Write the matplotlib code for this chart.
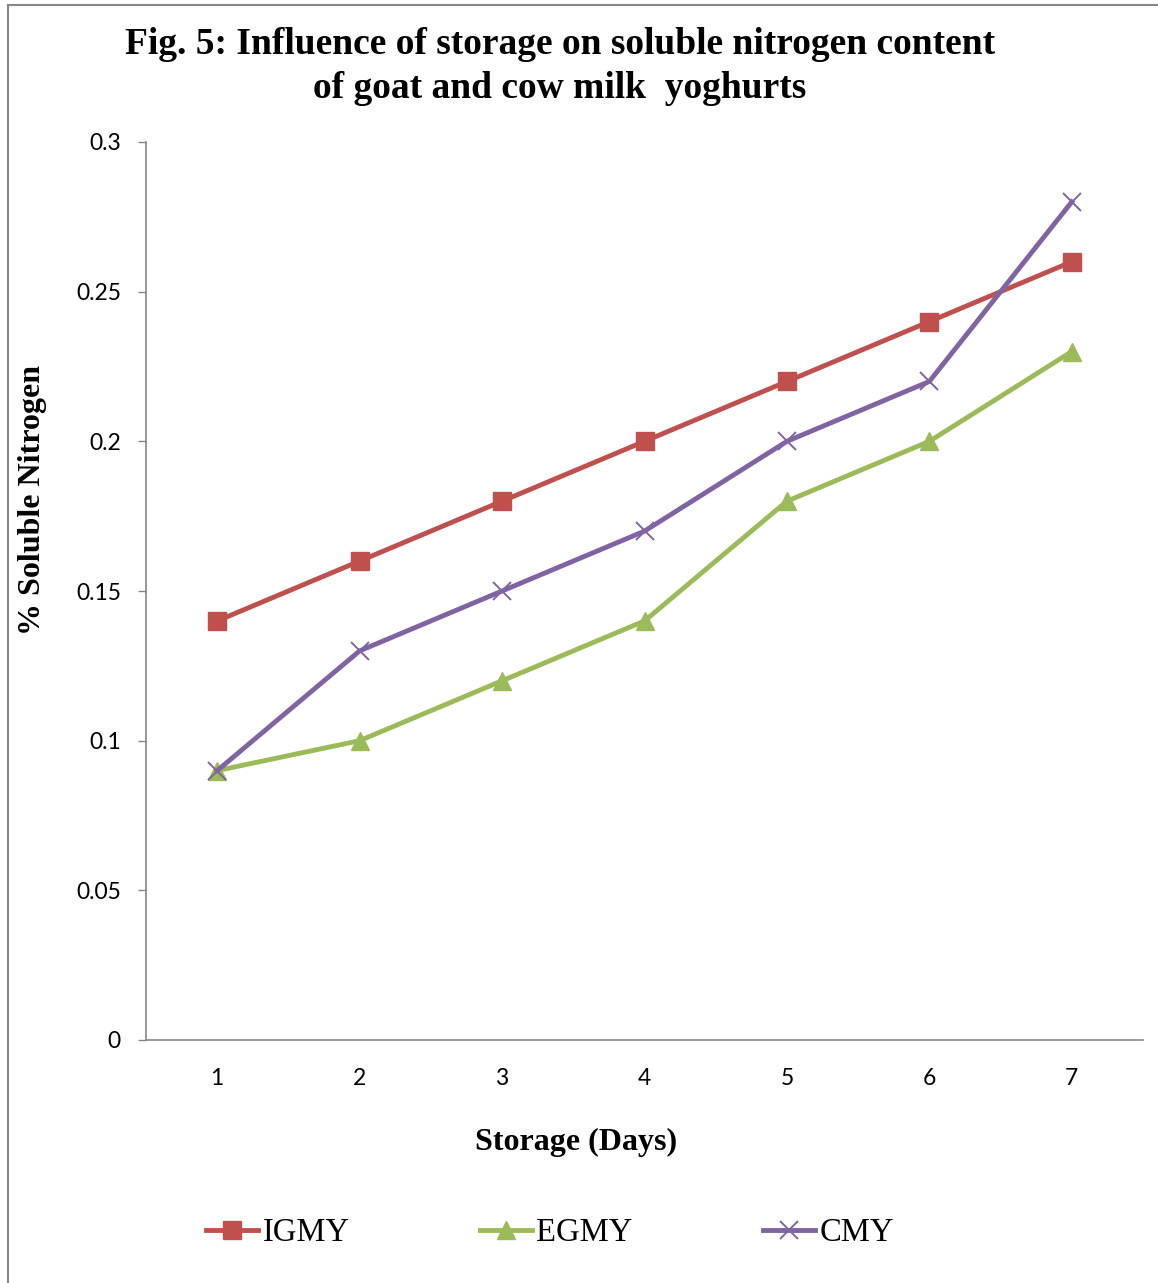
import matplotlib
matplotlib.use("Agg")
import matplotlib.pyplot as plt
from matplotlib.lines import Line2D

# Soluble nitrogen (%) over storage days
days = [1, 2, 3, 4, 5, 6, 7]
igmy = [0.14, 0.16, 0.18, 0.20, 0.22, 0.24, 0.26]
egmy = [0.09, 0.10, 0.12, 0.14, 0.18, 0.20, 0.23]
cmy = [0.09, 0.13, 0.15, 0.17, 0.20, 0.22, 0.28]
y_ticks = [0, 0.05, 0.1, 0.15, 0.2, 0.25, 0.3]
y_tick_labels = ["0", "0.05", "0.1", "0.15", "0.2", "0.25", "0.3"]

serif = "Liberation Serif"
sans = "Lato"
grey = "#868686"

W, H = 1158, 1283
fig = plt.figure(figsize=(W / 100, H / 100), dpi=100)
ax = fig.add_axes([146 / W, 1 - 1040 / H, (1143 - 146) / W, (1040 - 142) / H])

ax.plot(days, igmy, color="#C0504D", lw=3.5, marker="s", markersize=13,
        label="IGMY")
ax.plot(days, egmy, color="#9BBB59", lw=3.5, marker="^", markersize=13,
        label="EGMY")
ax.plot(days, cmy, color="#8064A2", lw=3.5, marker="x", markersize=13,
        markeredgewidth=1.4, label="CMY")

ax.set_xlim(0.5, 7.5)
ax.set_ylim(0, 0.3)
ax.set_xticks(days)
ax.set_xticklabels([str(d) for d in days], fontsize=16.5, family=sans)
ax.set_yticks(y_ticks)
ax.set_yticklabels(y_tick_labels, fontsize=16.5, family=sans)
ax.tick_params(axis="y", length=6, width=1, color=grey, pad=12)
ax.tick_params(axis="x", length=0, pad=20)

for side in ("top", "right"):
    ax.spines[side].set_visible(False)
for side in ("left", "bottom"):
    ax.spines[side].set_color(grey)
    ax.spines[side].set_linewidth(1.2)

fig.text(560 / W, 1 - 45 / H, "Fig. 5: Influence of storage on soluble nitrogen content",
         ha="center", va="center", fontsize=27, fontweight="bold", family=serif)
fig.text(560 / W, 1 - 88 / H, "of goat and cow milk  yoghurts",
         ha="center", va="center", fontsize=27, fontweight="bold", family=serif)
fig.text(576 / W, 1 - 1142 / H, "Storage (Days)", ha="center", va="center",
         fontsize=23, fontweight="bold", family=serif)
fig.text(33 / W, 1 - 500 / H, "% Soluble Nitrogen", ha="center", va="center",
         rotation=90, fontsize=23, fontweight="bold", family=serif)

fig.legend(loc="center", bbox_to_anchor=(550 / W, 1 - 1233 / H), ncol=3,
           frameon=False, prop={"family": serif, "size": 23.5},
           handlelength=1.6, handletextpad=0.12, columnspacing=4.0)

# outer chart frame
fig.add_artist(Line2D([8 / W, 8 / W], [0, 1 - 5 / H], color=grey, lw=1.5,
                      transform=fig.transFigure))
fig.add_artist(Line2D([8 / W, 1], [1 - 5 / H, 1 - 5 / H], color=grey, lw=1.5,
                      transform=fig.transFigure))

fig.savefig("out.png", dpi=100)
